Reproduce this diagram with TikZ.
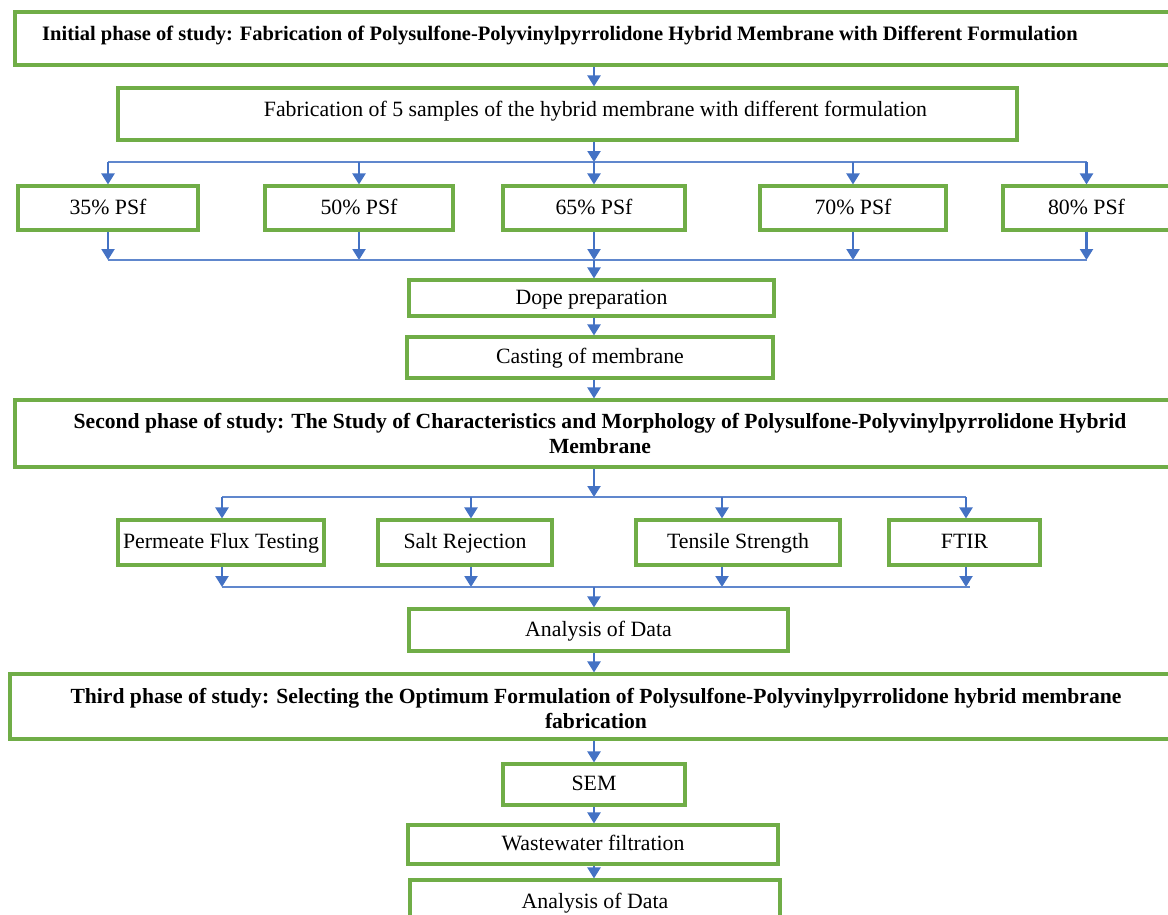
\documentclass[tikz,border=0pt]{standalone}
\usepackage{fontspec}
\setmainfont{Liberation Serif}
\usetikzlibrary{arrows.meta}
\definecolor{boxgreen}{HTML}{70AD47}
\definecolor{arrblue}{HTML}{4472C4}
\begin{document}
\begin{tikzpicture}[x=1pt,y=-1pt,
  frame/.style={draw=boxgreen, line width=3.1pt, fill=white, inner sep=2pt, align=center},
  box/.style={frame, font=\fontsize{21.8}{26}\selectfont, text height=14.5pt, text depth=2pt},
  ttl/.style={frame, font=\fontsize{21.6}{25}\selectfont\bfseries},
  arr/.style={draw=arrblue, line width=2.2pt, -{Triangle[width=13pt,length=11pt]}},
  conn/.style={draw=arrblue!85, line width=1.8pt}]
\useasboundingbox (0,0) rectangle (1168,914);
\clip (0,0) rectangle (1168,914);
% phase 1
\node[ttl, font=\fontsize{20.5}{25}\selectfont\bfseries, minimum width=1175, minimum height=53, text depth=11pt] (ph1) at (602.5,38.5)
  {Initial phase of study: Fabrication of Polysulfone-Polyvinylpyrrolidone Hybrid Membrane with Different Formulation\hspace*{85pt}};
\node[box, minimum width=899, minimum height=52, text depth=10.5pt] (fab) at (567.5,114)
  {\hspace*{56pt}Fabrication of 5 samples of the hybrid membrane with different formulation};
\node[box, minimum width=180, minimum height=44] (p35) at (108,208) {35\% PSf};
\node[box, minimum width=188, minimum height=44] (p50) at (359,208) {50\% PSf};
\node[box, minimum width=182, minimum height=44] (p65) at (594,208) {65\% PSf};
\node[box, minimum width=186, minimum height=44] (p70) at (853,208) {70\% PSf};
\node[box, minimum width=167, minimum height=44] (p80) at (1086.5,208) {80\% PSf};
\node[box, minimum width=365, minimum height=36] (dope) at (591.5,298) {Dope preparation};
\node[box, minimum width=366, minimum height=41] (cast) at (590,357.5) {Casting of membrane};
% phase 2
\node[ttl, minimum width=1170, minimum height=67] (ph2) at (600,433.5)
  {Second phase of study: The Study of Characteristics and Morphology of Polysulfone-Polyvinylpyrrolidone Hybrid\\Membrane};
\node[box, minimum width=206, minimum height=45] (pft) at (221,542.5) {Permeate Flux Testing};
\node[box, minimum width=174, minimum height=45] (salt) at (465,542.5) {Salt Rejection};
\node[box, minimum width=204, minimum height=45] (tens) at (738,542.5) {Tensile Strength};
\node[box, minimum width=151, minimum height=45] (ftir) at (964.5,542.5) {FTIR};
\node[box, minimum width=379, minimum height=42] (ana1) at (598.5,630) {Analysis of Data};
% phase 3
\node[ttl, minimum width=1172, minimum height=65] (ph3) at (596,706.5)
  {\rule{0pt}{19pt}Third phase of study: Selecting the Optimum Formulation of Polysulfone-Polyvinylpyrrolidone hybrid membrane\\fabrication};
\node[box, minimum width=182, minimum height=41] (sem) at (594,784.5) {SEM};
\node[box, minimum width=370, minimum height=39] (waste) at (593,844.5) {Wastewater filtration};
\node[box, minimum width=370, minimum height=44] (ana2) at (595,902) {Analysis of Data};
% junction coordinates
\coordinate (s1) at (594,162);
\coordinate (s2) at (594,260);
\coordinate (s3) at (594,497);
\coordinate (s4) at (594,587);
\coordinate (a1) at (222,497);
\coordinate (a2) at (471,497);
\coordinate (a3) at (722,497);
\coordinate (a4) at (966,497);
\coordinate (c1) at (222,587);
\coordinate (c2) at (471,587);
\coordinate (c3) at (722,587);
\coordinate (c4) at (966,587);
\coordinate (c5) at (970,587);
% connectors
\draw[arr] (s1 |- ph1.south) -- (s1 |- fab.north);
\draw[conn] (p35.north |- s1) -- (p80.north |- s1);
\draw[arr] (s1 |- fab.south) -- (s1);
\foreach \n in {p35,p50,p65,p70,p80}{
  \draw[arr] (\n.north |- s1) -- (\n.north);
  \draw[arr] (\n.south) -- (\n.south |- s2);
}
\draw[conn] (p35.south |- s2) -- (p80.south |- s2);
\draw[arr] (s2) -- (s2 |- dope.north);
\draw[arr] (s2 |- dope.south) -- (s2 |- cast.north);
\draw[arr] (s2 |- cast.south) -- (s2 |- ph2.north);
\draw[arr] (s3 |- ph2.south) -- (s3);
\draw[conn] (a1) -- (a4);
\draw[arr] (a1) -- (a1 |- pft.north);
\draw[arr] (a2) -- (a2 |- salt.north);
\draw[arr] (a3) -- (a3 |- tens.north);
\draw[arr] (a4) -- (a4 |- ftir.north);
\draw[arr] (c1 |- pft.south) -- (c1);
\draw[arr] (c2 |- salt.south) -- (c2);
\draw[arr] (c3 |- tens.south) -- (c3);
\draw[arr] (c4 |- ftir.south) -- (c4);
\draw[conn] (c1) -- (c5);
\draw[arr] (s4) -- (s4 |- ana1.north);
\draw[arr] (s4 |- ana1.south) -- (s4 |- ph3.north);
\draw[arr] (s4 |- ph3.south) -- (s4 |- sem.north);
\draw[arr] (s4 |- sem.south) -- (s4 |- waste.north);
\draw[arr] (s4 |- waste.south) -- (s4 |- ana2.north);
\end{tikzpicture}
\end{document}
